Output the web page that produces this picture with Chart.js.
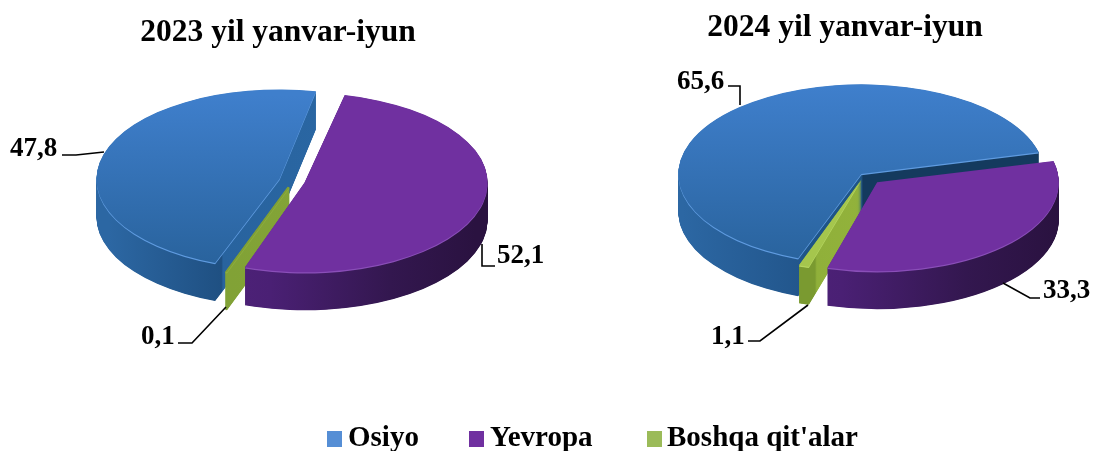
<!DOCTYPE html>
<html><head><meta charset="utf-8">
<script src="https://cdn.jsdelivr.net/npm/chart.js@4"></script>
<style>
html,body{margin:0;padding:0;background:#fff;width:1094px;height:451px;overflow:hidden}
canvas{position:absolute;top:0}
#legend{position:absolute;left:0;top:420px;width:1094px;height:31px;font:bold 29px "Liberation Serif",serif;color:#000}
#legend span{position:absolute;top:-1px;white-space:nowrap;line-height:34px}
#legend i{position:absolute;top:11px;width:15px;height:16px}
</style></head><body>
<canvas id="c1" width="556" height="451" style="left:0"></canvas>
<canvas id="c2" width="498" height="451" style="left:596px"></canvas>
<div id="legend"></div>
<script>
const categories = ["Osiyo", "Yevropa", "Boshqa qit'alar"];
const values2023 = [47.8, 52.1, 0.1];
const values2024 = [65.6, 33.3, 1.1];
const titles = ["2023 yil yanvar-iyun", "2024 yil yanvar-iyun"];
const legendColors = ["#558ed5", "#7030a0", "#9bbb59"];

const SERIF = '"Liberation Serif", serif';
const drawOrder = [0, 2, 1];

function hexStops(ctx, x0, x1, stops){
  const g = ctx.createLinearGradient(x0,0,x1,0);
  stops.forEach(s=>g.addColorStop(s[0],s[1]));
  return g;
}

const pie3d = {
  id:'pie3d',
  beforeDatasetsDraw(chart, args, o){
    const ctx = chart.ctx, arcs = chart.getDatasetMeta(0).data, first = arcs[0];
    const R = o.radius, k = o.squash;
    const place = dy => {
      ctx.translate(o.cx, o.cy);
      ctx.scale(1,k);
      ctx.translate(-first.x, -first.y + dy/k);
    };
    const paint = (arc, fill, dy, i) => {
      const f = Object.create(arc);
      const bw = (o.borders||[])[i] || 0;
      f.options = Object.assign({}, arc.options, {backgroundColor:fill, borderColor:fill, borderWidth:bw});
      ctx.save(); place(dy); f.draw(ctx); ctx.restore();
    };
    drawOrder.forEach(i=>{
      const arc = arcs[i];
      const wall = hexStops(ctx, first.x-R, first.x+R, o.walls[i]);
      for(let d=o.depth; d>0; d-=0.5) paint(arc, wall, d, i);
      paint(arc, o.rims[i], 1.2, i);
      let top = o.tops[i];
      if(Array.isArray(top)){
        const g = ctx.createLinearGradient(0, first.y-R, 0, first.y+R);
        g.addColorStop(0, top[0]); g.addColorStop(1, top[1]);
        top = g;
      }
      paint(arc, top, 0, i);
    });
    return false;
  },
  afterDraw(chart, args, o){
    const ctx = chart.ctx, vals = chart.data.datasets[0].data;
    ctx.save();
    ctx.strokeStyle='#000'; ctx.lineWidth=1.6; ctx.fillStyle='#000';
    ctx.font='bold 27px '+SERIF; ctx.textBaseline='middle'; ctx.textAlign='left';
    o.labels.forEach(l=>{
      ctx.fillText(vals[l.i].toFixed(1).replace('.',','), l.x, l.y);
      ctx.beginPath();
      l.line.forEach((p,n)=> n ? ctx.lineTo(p[0],p[1]) : ctx.moveTo(p[0],p[1]));
      ctx.stroke();
    });
    ctx.restore();
  }
};

function makePie(id, values, title, titleTop, rotation, offsets, geom){
  return new Chart(document.getElementById(id), {
    type:'pie',
    data:{labels:categories, datasets:[{data:values, backgroundColor:legendColors, borderWidth:0, offset:offsets, clip:false}]},
    options:{
      responsive:false, animation:false, rotation:rotation, radius:geom.radius,
      layout:{padding:0},
      events:[],
      plugins:{
        legend:{display:false}, tooltip:{enabled:false},
        title:{display:true, text:title, color:'#000', font:{family:SERIF, size:31.5, weight:'bold'}, padding:{top:titleTop, bottom:0}},
        pie3d:geom
      }
    },
    plugins:[pie3d]
  });
}

const blueTop = ['#3f7fcc','#29639d'], purpleTop = '#7030a0';
const purpleWall = [[0,'#552581'],[.4,'#4a2074'],[.75,'#33174f'],[1,'#2a1240']];

makePie('c1', values2023, titles[0], 14, 200, [56,48,52], {
  radius:171, squash:.49, cx:293, cy:181, depth:38,
  borders:[0,0,2],
  tops:[blueTop, purpleTop, '#7f9f35'],
  rims:['#5f9be0','#8a4fb8','#8fb040'],
  walls:[
    [[0,'#2c67a3'],[.33,'#1f5082'],[.335,'#28639e'],[1,'#2c6aa8']],
    purpleWall,
    [[0,'#7f9f35'],[1,'#86a838']]
  ],
  labels:[
    {i:0,x:10,y:149,line:[[62,155],[76,155],[104,152]]},
    {i:1,x:497,y:256,line:[[482,244],[482,266],[495,266]]},
    {i:2,x:141,y:337,line:[[178,343],[192,343],[226,307]]}
  ]
});

makePie('c2', values2024, titles[1], 9, 200, [16,76,32], {
  radius:179, squash:.49, cx:864-596, cy:175.5, depth:38,
  tops:[blueTop, purpleTop, '#a5c64d'],
  rims:['#5f9be0','#8a4fb8','#b5d560'],
  walls:[
    [[0,'#2c67a3'],[.33,'#22568c'],[.34,'#1e5487'],[.5,'#1e5487'],[.505,'#143a5e'],[1,'#143a5e']],
    purpleWall,
    [[0,'#7a9a30'],[.37,'#7a9a30'],[.375,'#90b03a'],[1,'#9abb40']]
  ],
  labels:[
    {i:0,x:677-596,y:82,line:[[728-596,86],[740-596,86],[740-596,105]]},
    {i:1,x:1043-596,y:291,line:[[1003-596,283],[1030-596,298],[1040-596,298]]},
    {i:2,x:711-596,y:337,line:[[748-596,341],[760-596,341],[808-596,305]]}
  ]
});

const legendSlots = [[327,348],[469,490],[647,667]];
const legendEl = document.getElementById('legend');
categories.forEach((name,i)=>{
  const box = document.createElement('i');
  box.style.left = legendSlots[i][0]+'px'; box.style.background = legendColors[i];
  const txt = document.createElement('span');
  txt.style.left = legendSlots[i][1]+'px'; txt.textContent = name;
  legendEl.append(box, txt);
});
</script>
</body></html>
